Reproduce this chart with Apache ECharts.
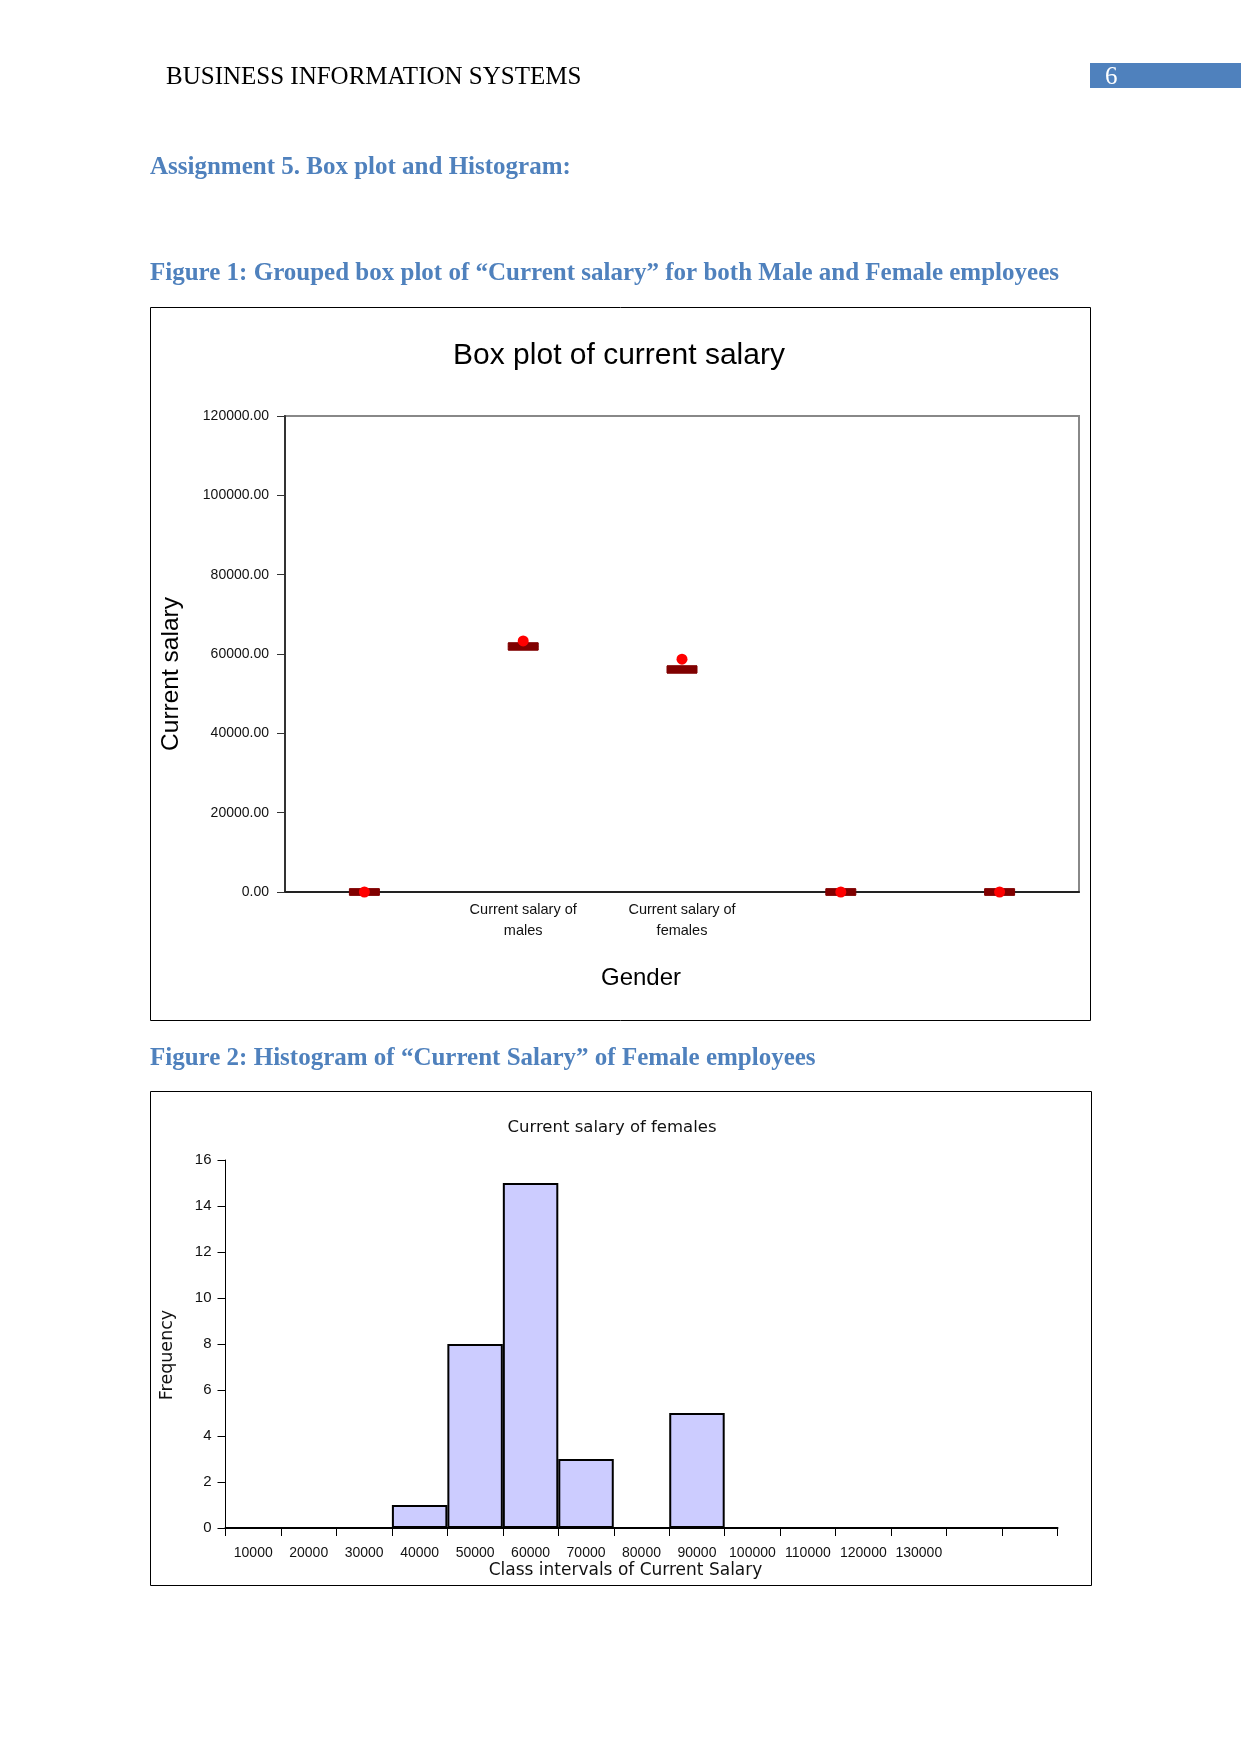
<!DOCTYPE html>
<html>
<head>
<meta charset="utf-8">
<script src="https://cdn.jsdelivr.net/npm/echarts@6/dist/echarts.min.js"></script>
<style>
html,body{margin:0;padding:0;background:#fff;}
#main{width:1241px;height:1754px;}
</style>
</head>
<body>
<div id="main"></div>
<script>
// ---- Figure 1: box plot data ----
const boxCategories = ['', 'Current salary of\nmales', 'Current salary of\nfemales', '', ''];
const boxMin    = [-800, 61000, 55200, -800, -800];
const boxQ1     = [-800, 61000, 55200, -800, -800];
const boxMedian = [0, 61900, 56100, 0, 0];
const boxQ3     = [800, 62800, 57000, 800, 800];
const boxMax    = [800, 62800, 57000, 800, 800];
const boxMean   = [0, 63300, 58700, 0, 0];
const boxYTicks = [0, 20000, 40000, 60000, 80000, 100000, 120000];

// ---- Figure 2: histogram data ----
const histCategories = ['10000','20000','30000','40000','50000','60000','70000','80000','90000','100000','110000','120000','130000','',''];
const histFrequency  = [0, 0, 0, 1, 8, 15, 3, 0, 5, 0, 0, 0, 0, 0, 0];

const narrow = "'Liberation Sans Narrow','Arial Narrow','Liberation Sans',sans-serif";
const sans = "'Liberation Sans',Arial,sans-serif";
const serif = "'Liberation Serif','Times New Roman',serif";
const dejavu = "'DejaVu Sans',sans-serif";
const blue = '#4F81BD';

const boxData = boxCategories.map((c, i) => [boxMin[i], boxQ1[i], boxMedian[i], boxQ3[i], boxMax[i]]);

const chart = echarts.init(document.getElementById('main'), null, {renderer: 'canvas'});

function txt(x, y, text, font, color, align) {
  return {
    type: 'text', x: x, y: y,
    style: {text: text, font: font, fill: color || '#000', textAlign: align || 'left', textVerticalAlign: 'middle'}
  };
}

chart.setOption({
  backgroundColor: '#fff',
  animation: false,
  graphic: [
    txt(166, 77, 'BUSINESS INFORMATION SYSTEMS', '25px ' + serif, '#000'),
    {type: 'rect', shape: {x: 1090, y: 63, width: 151, height: 25}, style: {fill: blue}},
    txt(1105, 77, '6', '25px ' + serif, '#fff'),
    txt(150, 168, 'Assignment 5. Box plot and Histogram:', 'bold 25px ' + serif, blue),
    txt(150, 274, 'Figure 1: Grouped box plot of \u201cCurrent salary\u201d for both Male and Female employees', 'bold 25px ' + serif, blue),
    txt(150, 1059, 'Figure 2: Histogram of \u201cCurrent Salary\u201d of Female employees', 'bold 25px ' + serif, blue),
    {type: 'rect', shape: {x: 150.5, y: 307.5, width: 940, height: 713}, style: {fill: null, stroke: '#000', lineWidth: 1}},
    {type: 'rect', shape: {x: 150.5, y: 1091.5, width: 941, height: 494}, style: {fill: null, stroke: '#000', lineWidth: 1}},
    txt(619, 356, 'Box plot of current salary', '30px ' + sans, '#000', 'center'),
    txt(612, 1128, 'Current salary of females', '16.5px ' + dejavu, '#111', 'center')
  ],
  grid: [
    {left: 285, top: 416, width: 794, height: 476, show: true, borderColor: '#888', borderWidth: 2, backgroundColor: 'transparent'},
    {left: 225.5, top: 1160, width: 832, height: 368}
  ],
  xAxis: [
    {
      type: 'category', gridIndex: 0, data: boxCategories,
      axisLine: {lineStyle: {color: '#222', width: 2}},
      axisTick: {show: false},
      axisLabel: {interval: 0, margin: 7, fontFamily: narrow, fontSize: 14.5, lineHeight: 21, color: '#111'},
      name: 'Gender', nameLocation: 'middle', nameGap: 74,
      nameTextStyle: {fontFamily: sans, fontSize: 24, color: '#000', padding: [0, 82, 0, 0]}
    },
    {
      type: 'category', gridIndex: 1, data: histCategories,
      axisLine: {lineStyle: {color: '#000', width: 2}},
      axisTick: {show: true, interval: 0, length: 8, lineStyle: {color: '#000', width: 1}},
      axisLabel: {interval: 0, margin: 18, fontFamily: narrow, fontSize: 14, color: '#111'},
      name: 'Class intervals of Current Salary', nameLocation: 'middle', nameGap: 34,
      nameTextStyle: {fontFamily: dejavu, fontSize: 17, color: '#111', padding: [0, 32, 0, 0]}
    }
  ],
  yAxis: [
    {
      type: 'value', gridIndex: 0, min: 0, max: 120000, interval: 20000,
      axisLine: {show: true, lineStyle: {color: '#333', width: 2}},
      axisTick: {show: true, length: 8, lineStyle: {color: '#333', width: 1}},
      splitLine: {show: false},
      axisLabel: {margin: 16, fontFamily: narrow, fontSize: 14, color: '#111', formatter: v => v.toFixed(2)},
      name: 'Current salary', nameLocation: 'middle', nameGap: 101,
      nameTextStyle: {fontFamily: sans, fontSize: 24.5, color: '#000', padding: [0, 40, 0, 0]}
    },
    {
      type: 'value', gridIndex: 1, min: 0, max: 16, interval: 2,
      axisLine: {show: true, lineStyle: {color: '#000', width: 1}},
      axisTick: {show: true, length: 8, lineStyle: {color: '#000', width: 1}},
      splitLine: {show: false},
      axisLabel: {margin: 14, fontFamily: narrow, fontSize: 15, color: '#111'},
      name: 'Frequency', nameLocation: 'middle', nameGap: 49,
      nameTextStyle: {fontFamily: dejavu, fontSize: 17.5, color: '#111', padding: [0, 22, 0, 0]}
    }
  ],
  series: [
    {
      type: 'boxplot', xAxisIndex: 0, yAxisIndex: 0, data: boxData,
      boxWidth: [30, 30],
      itemStyle: {color: '#800000', borderColor: '#800000', borderWidth: 1},
      z: 3
    },
    {
      type: 'scatter', xAxisIndex: 0, yAxisIndex: 0, data: boxMean,
      symbol: 'circle', symbolSize: 11,
      itemStyle: {color: '#ff0000', opacity: 1},
      z: 4
    },
    {
      type: 'bar', xAxisIndex: 1, yAxisIndex: 1, data: histFrequency,
      barCategoryGap: '0%',
      itemStyle: {color: '#ccccff', borderColor: '#000', borderWidth: 2},
      z: 2
    }
  ]
});
</script>
</body>
</html>
